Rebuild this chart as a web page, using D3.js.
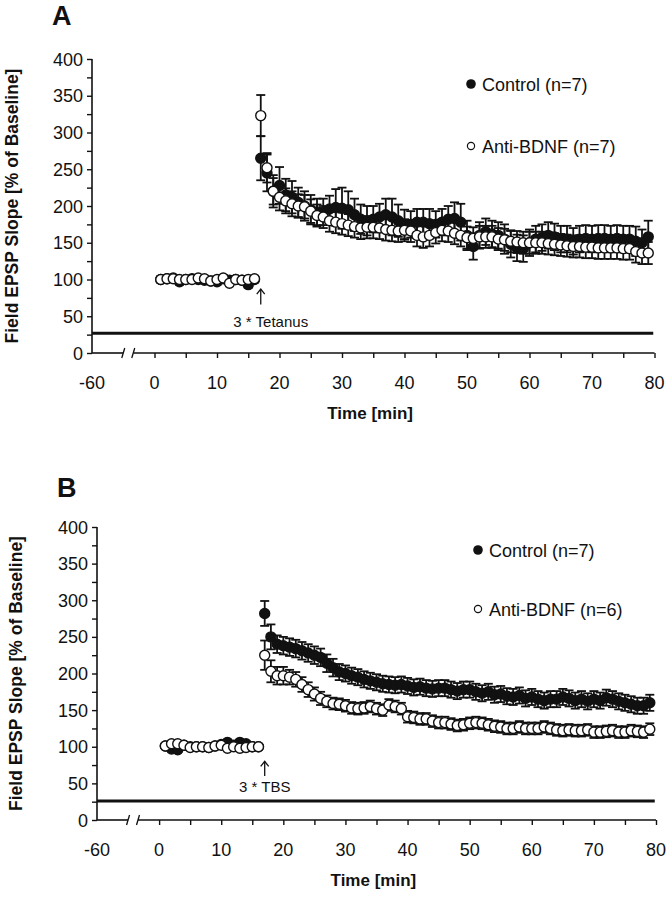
<!DOCTYPE html>
<html><head><meta charset="utf-8">
<script src="https://cdn.jsdelivr.net/npm/d3@7"></script>
<style>body{margin:0;background:#fff} svg{display:block} text{font-family:Arial,"Liberation Sans",sans-serif;fill:#111}</style>
</head><body><svg id="c" width="671" height="899"></svg>
<script>
// time (min) of each sample
const times = [1,2,3,4,5,6,7,8,9,10,11,12,13,14,15,16,17,18,19,20,21,22,23,24,25,26,27,28,29,30,31,32,33,34,35,36,37,38,39,40,41,42,43,44,45,46,47,48,49,50,51,52,53,54,55,56,57,58,59,60,61,62,63,64,65,66,67,68,69,70,71,72,73,74,75,76,77,78,79];

// Panel A (3 * Tetanus)
const ctrlA = [100,101,102,97,100,101,100,99,98,97,101,99,100,99,93,100,
  265,245,220,228,215,212,205,200,195,192,
  192,196,198,197,195,188,182,180,182,185,
  188,185,180,175,175,178,178,176,175,178,
  182,183,178,160,145,160,165,162,160,155,
  148,143,142,150,155,157,160,158,155,155,
  152,155,156,155,156,156,155,156,155,155,
  152,150,158];
const ctrlAErr = [4,4,4,4,4,4,4,4,4,4,4,4,4,4,4,4,
  30,25,22,25,22,22,20,20,20,18,
  18,18,25,28,25,22,20,20,18,18,
  22,25,22,20,18,18,18,20,18,18,
  18,22,25,20,18,18,18,18,18,20,
  18,18,18,18,18,18,18,18,18,18,
  18,18,18,18,18,18,18,18,18,18,
  20,18,22];
const antiA = [100,101,101,100,100,100,102,101,98,100,102,95,100,99,100,101,
  323,252,220,212,207,203,200,199,193,187,
  185,180,178,176,174,172,170,171,171,170,
  168,167,166,167,166,160,158,160,164,167,
  166,163,160,157,156,158,158,158,155,154,
  152,151,150,150,150,150,149,148,147,146,
  145,145,144,144,143,143,143,143,142,142,
  138,136,136];
const antiAErr = [4,4,4,4,4,4,4,4,4,4,4,4,4,4,4,4,
  28,20,18,18,17,17,16,16,16,15,
  15,15,15,15,15,15,15,15,15,15,
  15,15,15,15,15,15,15,15,15,15,
  15,15,15,15,15,15,15,15,15,15,
  15,15,15,15,15,15,15,15,15,15,
  15,15,15,15,15,15,15,15,15,15,
  15,15,15];

// Panel B (3 * TBS)
const ctrlB = [101,97,96,102,100,100,100,99,101,103,106,102,106,104,100,100,
  282,250,240,238,236,234,231,228,225,222,
  214,208,202,200,197,195,192,190,188,186,
  185,184,185,183,181,182,180,179,180,180,
  178,176,178,178,175,173,175,171,172,169,
  168,170,166,168,165,163,165,165,168,166,
  163,165,162,165,163,167,165,162,160,158,
  156,156,160];
const ctrlBErr = [3,3,3,3,3,3,3,3,3,3,3,3,3,3,3,3,
  17,17,12,12,12,12,12,12,12,12,
  12,12,11,11,11,11,11,11,11,11,
  11,11,11,11,11,11,11,11,11,11,
  11,11,11,11,11,11,11,11,11,11,
  11,11,11,11,11,11,11,11,11,11,
  11,11,11,11,11,11,11,11,11,11,
  11,11,11];
const antiB = [101,104,104,102,99,100,100,99,101,102,98,100,98,99,100,100,
  225,203,197,197,195,192,185,178,172,166,
  162,159,158,156,153,152,153,155,152,150,
  157,155,152,141,140,138,138,135,133,133,
  131,129,130,132,133,132,130,128,127,125,
  125,127,125,125,125,127,125,123,122,123,
  122,122,123,120,120,121,122,120,120,122,
  121,120,124];
const antiBErr = [3,3,3,3,3,3,3,3,3,3,3,3,3,3,3,3,
  20,15,12,12,10,10,10,10,9,9,
  8,8,8,8,8,8,8,8,8,8,
  8,8,8,8,8,8,8,8,8,8,
  8,8,8,8,8,8,8,8,8,8,
  8,8,8,8,8,8,8,8,8,8,
  8,8,8,8,8,8,8,8,8,8,
  8,8,8];

const yTicks = [0,50,100,150,200,250,300,350,400];
const yMinorTicks = [0,25,50,75,100,125,150,175,200,225,250,275,300,325,350,375,400];
const xTickVals = [-10,0,10,20,30,40,50,60,70,80];
const xTickLabels = ["-60","0","10","20","30","40","50","60","70","80"];
const xMinorTicks = [0,5,10,15,20,25,30,35,40,45,50,55,60,65,70,75,80];

const panels = [
  {letter:"A", ctrl:ctrlA, ctrlErr:ctrlAErr, anti:antiA, antiErr:antiAErr,
   legend:["Control (n=7)","Anti-BDNF (n=7)"], stim:"3 * Tetanus",
   xr:[92,654.5], yr:[353,59], letterPos:[52,25], ylabX:18,
   leg:[[471,84],[471,146]], arrow:[87,66], stimY:35, stimDx:10, lineLevel:27},
  {letter:"B", ctrl:ctrlB, ctrlErr:ctrlBErr, anti:antiB, antiErr:antiBErr,
   legend:["Control (n=7)","Anti-BDNF (n=6)"], stim:"3 * TBS",
   xr:[97,656], yr:[820,527], letterPos:[57,497], ylabX:22,
   leg:[[478,550],[478,609]], arrow:[80,60], stimY:38, stimDx:0, lineLevel:26}
];

const svg = d3.select("#c");

panels.forEach(p => {
  const g = svg.append("g");
  const x = d3.scaleLinear().domain([-10,80]).range(p.xr);
  const y = d3.scaleLinear().domain([0,400]).range(p.yr);
  const y0 = y(0);

  g.append("text").attr("x",p.letterPos[0]).attr("y",p.letterPos[1])
    .attr("font-size",27).attr("font-weight","bold").text(p.letter);

  // y axis
  const yAxis = d3.axisLeft(y).tickValues(yMinorTicks).tickSize(5).tickFormat("");
  const ya = g.append("g").attr("transform",`translate(${x(-10)},0)`).call(yAxis);
  ya.select(".domain").remove();
  ya.selectAll("line").attr("stroke","#111").attr("stroke-width",1.4);
  g.append("line").attr("x1",x(-10)).attr("x2",x(-10)).attr("y1",y(400)).attr("y2",y0)
    .attr("stroke","#111").attr("stroke-width",1.6);
  g.selectAll(".ytl").data(yTicks).enter().append("text")
    .attr("x",x(-10)-9).attr("y",d=>y(d)+6.5).attr("text-anchor","end")
    .attr("font-size",18).text(d=>d);

  g.append("text").attr("transform",`translate(${p.ylabX},${(y(0)+y(400))/2}) rotate(-90)`)
    .attr("text-anchor","middle").attr("font-size",17.5).attr("font-weight","bold")
    .text("Field EPSP Slope [% of Baseline]");

  // x axis with break
  g.append("line").attr("x1",x(-10)).attr("x2",x(-5)).attr("y1",y0).attr("y2",y0)
    .attr("stroke","#111").attr("stroke-width",1.6);
  g.append("line").attr("x1",x(-3.4)).attr("x2",x(80)).attr("y1",y0).attr("y2",y0)
    .attr("stroke","#111").attr("stroke-width",1.6);
  [-5,-3.4].forEach(v=>{
    g.append("line").attr("x1",x(v)-1.5).attr("x2",x(v)+1.5).attr("y1",y0+5).attr("y2",y0-5)
      .attr("stroke","#111").attr("stroke-width",1.3);
  });
  const xAxis = d3.axisBottom(x).tickValues(xMinorTicks).tickSize(5).tickFormat("");
  const xa = g.append("g").attr("transform",`translate(0,${y0})`).call(xAxis);
  xa.select(".domain").remove();
  xa.selectAll("line").attr("stroke","#111").attr("stroke-width",1.4);
  g.selectAll(".xtl").data(xTickVals).enter().append("text")
    .attr("x",d=>x(d)).attr("y",y0+36).attr("text-anchor","middle")
    .attr("font-size",18).text((d,i)=>xTickLabels[i]);
  g.append("text").attr("x",x(34.5)).attr("y",y0+66).attr("text-anchor","middle")
    .attr("font-size",17).attr("font-weight","bold").text("Time [min]");

  // thick bar
  g.append("line").attr("x1",x(-10)).attr("x2",x(79.8)).attr("y1",y(p.lineLevel)).attr("y2",y(p.lineLevel))
    .attr("stroke","#111").attr("stroke-width",3);

  // stimulation arrow
  const ax = x(17);
  g.append("line").attr("x1",ax).attr("x2",ax).attr("y1",y(p.arrow[0])).attr("y2",y(p.arrow[1]))
    .attr("stroke","#111").attr("stroke-width",1.3);
  g.append("path").attr("d",`M${ax-4},${y(p.arrow[0])+5}L${ax},${y(p.arrow[0])}L${ax+4},${y(p.arrow[0])+5}`)
    .attr("fill","none").attr("stroke","#111").attr("stroke-width",1.3);
  g.append("text").attr("x",ax+p.stimDx).attr("y",y(p.stimY)).attr("text-anchor","middle")
    .attr("font-size",15).text(p.stim);

  function drawSeries(vals, errs, filled){
    const d = times.map((t,i)=>({t, v:vals[i], e:errs[i]}));
    const eb = g.append("g").attr("stroke","#111").attr("stroke-width",1.8);
    d.forEach(o=>{
      const cx = x(o.t), yt = y(o.v+o.e), yb = y(o.v-o.e);
      eb.append("line").attr("x1",cx).attr("x2",cx).attr("y1",yt).attr("y2",yb);
      eb.append("line").attr("x1",cx-4.5).attr("x2",cx+4.5).attr("y1",yt).attr("y2",yt);
      eb.append("line").attr("x1",cx-4.5).attr("x2",cx+4.5).attr("y1",yb).attr("y2",yb);
    });
    g.append("g").selectAll("circle").data(d).enter().append("circle")
      .attr("cx",o=>x(o.t)).attr("cy",o=>y(o.v)).attr("r",5)
      .attr("fill",filled?"#111":"#fff").attr("stroke","#111").attr("stroke-width",1.4);
  }
  drawSeries(p.ctrl, p.ctrlErr, true);
  drawSeries(p.anti, p.antiErr, false);

  // legend
  g.append("circle").attr("cx",p.leg[0][0]).attr("cy",p.leg[0][1]).attr("r",4.8).attr("fill","#111");
  g.append("text").attr("x",p.leg[0][0]+11).attr("y",p.leg[0][1]+6.5).attr("font-size",18).text(p.legend[0]);
  g.append("circle").attr("cx",p.leg[1][0]).attr("cy",p.leg[1][1]).attr("r",3.6).attr("fill","#fff")
    .attr("stroke","#111").attr("stroke-width",1.2);
  g.append("text").attr("x",p.leg[1][0]+11).attr("y",p.leg[1][1]+6.5).attr("font-size",18).text(p.legend[1]);
});
</script></body></html>
